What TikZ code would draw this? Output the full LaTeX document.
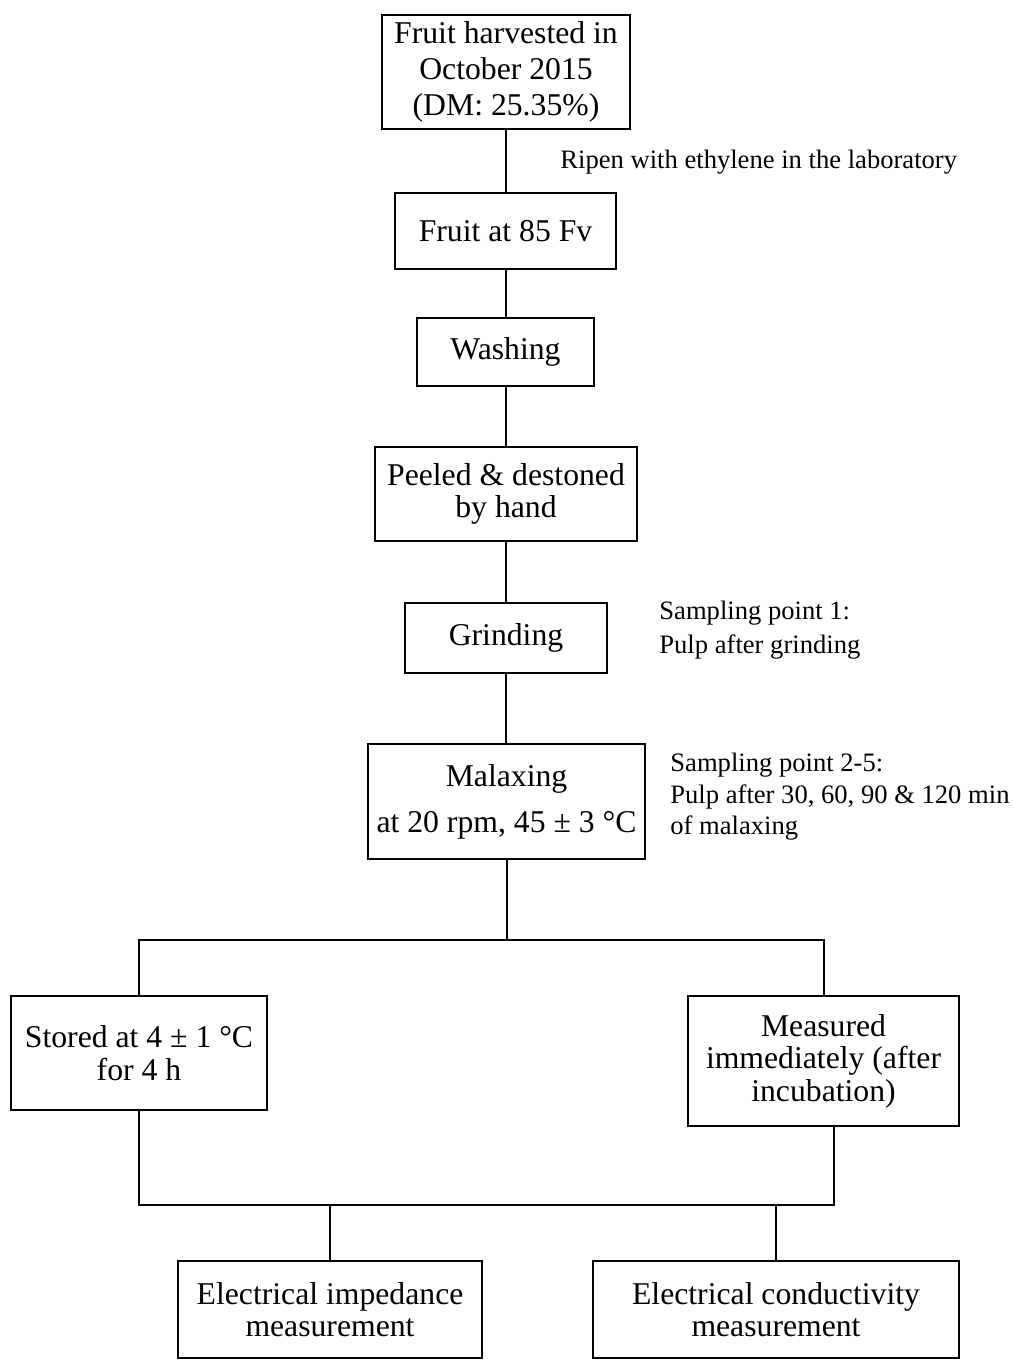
\documentclass[tikz,border=0pt]{standalone}
\usepackage{fontspec}
\setmainfont{Liberation Serif}
\begin{document}
\begin{tikzpicture}[x=0.5pt,y=-0.5pt,
  box/.style={draw, line width=1.35pt, rectangle, inner sep=0pt, align=center,
    font=\fontsize{15.85}{16.25}\selectfont},
  conn/.style={line width=1pt},
  side/.style={anchor=west, inner sep=0pt, align=left,
    font=\fontsize{13.3}{16}\selectfont}]
\useasboundingbox (0,0) rectangle (1013,1360);

\node[box, minimum width=124pt, minimum height=57pt,
  font=\fontsize{15.85}{18}\selectfont] (A) at (506,72)
  {Fruit harvested in\\October 2015\\(DM: 25.35\%)};
\node[box, minimum width=110.5pt, minimum height=38pt] (B) at (505.5,231) {Fruit at 85 Fv};
\node[box, minimum width=88.5pt, minimum height=34pt] (C) at (505.5,352) {Washing};
\node[box, minimum width=131pt, minimum height=47pt] (D) at (506,494) {Peeled \& destoned\\by hand};
\node[box, minimum width=101pt, minimum height=35pt] (E) at (506,638) {Grinding};
\node[box, minimum width=138.5pt, minimum height=57.5pt,
  font=\fontsize{15.85}{23}\selectfont] (F) at (506.5,801.5)
  {Malaxing\\at 20 rpm, 45 ± 3 °C};
\node[box, minimum width=128pt, minimum height=57pt] (G) at (139,1053) {Stored at 4 ± 1 °C\\for 4 h};
\node[box, minimum width=135.5pt, minimum height=65pt] (H) at (823.5,1061) {Measured\\immediately (after\\incubation)};
\node[box, minimum width=152pt, minimum height=48.5pt] (I) at (330,1309.5) {Electrical impedance\\measurement};
\node[box, minimum width=183pt, minimum height=48.5pt] (J) at (776,1309.5) {Electrical conductivity\\measurement};

\node[side] (lab1) at (560,162) {Ripen with ethylene in the laboratory};
\node[side, font=\fontsize{13.3}{17}\selectfont] (lab2) at (659,630) {Sampling point 1:\\Pulp after grinding};
\node[side, font=\fontsize{13.3}{15.75}\selectfont] (lab3) at (670,797) {Sampling point 2-5:\\Pulp after 30, 60, 90 \& 120 min\\of malaxing};

\draw[conn] (A.south) -- (A.south |- B.north);
\draw[conn] (B.south) -- (B.south |- C.north);
\draw[conn] (C.south) -- (C.south |- D.north);
\draw[conn] (D.south) -- (D.south |- E.north);
\draw[conn] (E.south) -- (E.south |- F.north);

\coordinate (split) at (507,940);
\coordinate (merge) at (507,1205);
\coordinate (Hb) at (834,1126);

\draw[conn] (F.south) -- (F.south |- split);
\draw[conn] (G.north) -- (G.north |- split) -- (H.north |- split) -- (H.north);
\draw[conn] (G.south) -- (G.south |- merge) -- (Hb |- merge) -- (Hb);
\draw[conn] (I.north) -- (I.north |- merge);
\draw[conn] (J.north) -- (J.north |- merge);
\end{tikzpicture}
\end{document}
